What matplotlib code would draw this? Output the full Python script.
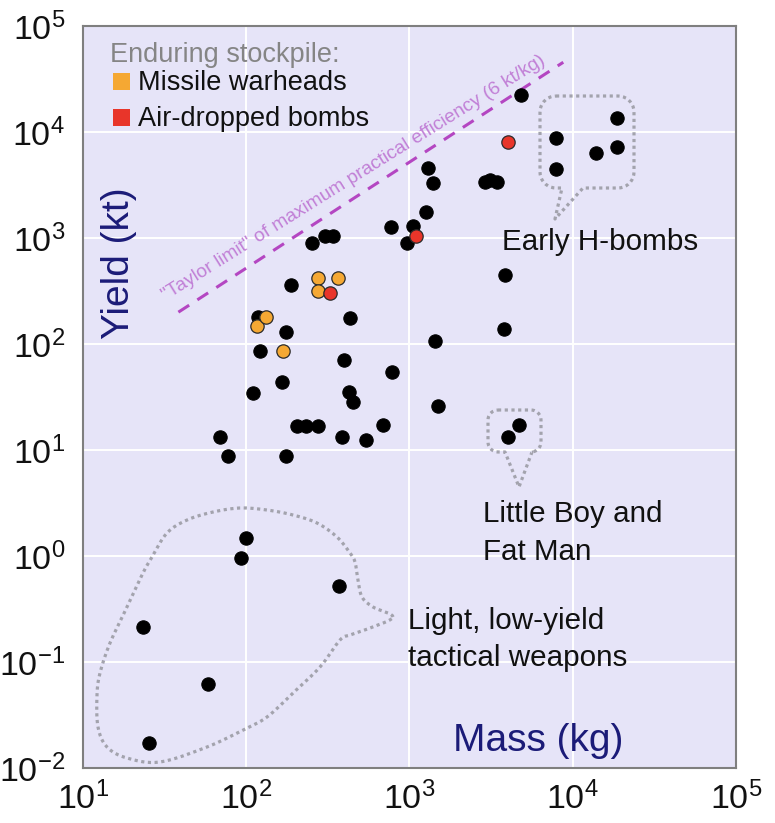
import numpy as np
import matplotlib
matplotlib.use('Agg')
import matplotlib.pyplot as plt
from matplotlib.patches import Rectangle

plt.rcParams['font.family'] = ['Liberation Sans', 'DejaVu Sans']
plt.rcParams['mathtext.fontset'] = 'custom'
plt.rcParams['mathtext.rm'] = 'Liberation Sans'
plt.rcParams['mathtext.it'] = 'Liberation Sans:italic'
plt.rcParams['mathtext.bf'] = 'Liberation Sans:bold'

# ---------------- data (mass in kg, yield in kt) ----------------
other_mass = [23.3, 58.6, 25.5, 92.5, 99.5, 371, 188, 252, 303, 341, 767, 118.6,
              175, 122, 432, 399, 778, 165.5, 110, 426, 449, 204, 232, 276, 685,
              387, 542, 69, 77.3, 175, 3865, 3810, 1440, 1485, 4710, 4030, 4840,
              7930, 7930, 13900, 18700, 18700, 1300, 1385, 2900, 3110, 3450, 1270,
              1055, 970]
other_yield = [0.215, 0.062, 0.0173, 0.95, 1.47, 0.525, 360, 891, 1045, 1045, 1280, 181,
               131, 86.5, 177, 70.6, 54.8, 44, 34.8, 35.5, 28.1, 16.9, 16.9, 16.9, 17.2,
               13.2, 12.4, 13.2, 8.8, 8.8, 445, 139, 107, 26, 17.1, 13.3, 22500,
               8830, 4480, 6340, 13600, 7210, 4550, 3330, 3400, 3520, 3400, 1770,
               1300, 891]
missile_mass = [116, 133, 167, 274, 366, 274]
missile_yield = [149, 179, 86.5, 423, 423, 318]
airdrop_mass = [326, 1097, 3990]
airdrop_yield = [301, 1050, 8090]

taylor_ratio = 5.2            # kt per kg as drawn
taylor_mass_range = [38.4, 8750]

x_ticks = [1e1, 1e2, 1e3, 1e4, 1e5]
x_tick_labels = [r'$10^{1}$', r'$10^{2}$', r'$10^{3}$', r'$10^{4}$', r'$10^{5}$']
y_ticks = [1e-2, 1e-1, 1e0, 1e1, 1e2, 1e3, 1e4, 1e5]
y_tick_labels = [r'$10^{-2}$', r'$10^{-1}$', r'$10^{0}$', r'$10^{1}$',
                 r'$10^{2}$', r'$10^{3}$', r'$10^{4}$', r'$10^{5}$']

# ---------------- figure ----------------
W, H = 775, 823
fig = plt.figure(figsize=(W / 100, H / 100), dpi=100)
AX_L, AX_R, AX_T, AX_B = 83, 736, 26, 768
ax = fig.add_axes([AX_L / W, (H - AX_B) / H, (AX_R - AX_L) / W, (AX_B - AX_T) / H])
ax.set_facecolor('#e6e4f8')
ax.set_xscale('log')
ax.set_yscale('log')
ax.set_xlim(1e1, 1e5)
ax.set_ylim(1e-2, 1e5)
ax.set_xticks(x_ticks)
ax.set_xticklabels(x_tick_labels)
ax.set_yticks(y_ticks)
ax.set_yticklabels(y_tick_labels)
ax.minorticks_off()
ax.tick_params(axis='both', length=0, labelsize=24.5, colors='#111111')
ax.tick_params(axis='x', pad=10)
ax.tick_params(axis='y', pad=13)
ax.grid(True, color='white', linewidth=1.4)
ax.set_axisbelow(True)
for s in ax.spines.values():
    s.set_color('#7f7f7f')
    s.set_linewidth(1.5)


def px(x, y):
    """image pixel -> axes fraction"""
    return ((x - AX_L) / (AX_R - AX_L), (AX_B - y) / (AX_B - AX_T))


def px_arr(pts):
    pts = np.asarray(pts, dtype=float)
    return (pts[:, 0] - AX_L) / (AX_R - AX_L), (AX_B - pts[:, 1]) / (AX_B - AX_T)


def catmull(pts, n=12, closed=True):
    pts = np.asarray(pts, dtype=float)
    P = np.vstack([pts[-1], pts, pts[0], pts[1]])
    out = []
    for i in range(1, len(P) - 2):
        p0, p1, p2, p3 = P[i - 1], P[i], P[i + 1], P[i + 2]
        for t in np.linspace(0, 1, n, endpoint=False):
            t2, t3 = t * t, t * t * t
            out.append(0.5 * ((2 * p1) + (-p0 + p2) * t + (2 * p0 - 5 * p1 + 4 * p2 - p3) * t2
                              + (-p0 + 3 * p1 - 3 * p2 + p3) * t3))
    out.append(out[0])
    return np.array(out)


def callout(x0, y0, x1, y1, r, tl, tr, tip):
    """rounded rectangle (pixel coords) with a tail on the bottom edge"""
    pts = []
    def arc(cx, cy, a0, a1):
        for a in np.linspace(a0, a1, 10):
            pts.append((cx + r * np.cos(a), cy + r * np.sin(a)))
    pts.append((x0 + r, y0))
    pts.append((x1 - r, y0))
    arc(x1 - r, y0 + r, -np.pi / 2, 0)
    pts.append((x1, y1 - r))
    arc(x1 - r, y1 - r, 0, np.pi / 2)
    pts.append((tr, y1))
    pts.append(tip)
    pts.append((tl, y1))
    pts.append((x0 + r, y1))
    arc(x0 + r, y1 - r, np.pi / 2, np.pi)
    pts.append((x0, y0 + r))
    arc(x0 + r, y0 + r, np.pi, 1.5 * np.pi)
    pts.append((x0 + r, y0))
    return pts


dot_style = dict(color='#a3a3ad', linewidth=2.3, linestyle=(0, (1, 1.1)),
                 transform=ax.transAxes, zorder=2)

# Early H-bombs callout
hx, hy = px_arr(callout(540, 96, 634, 188, 16, 562, 583, (555, 219)))
ax.plot(hx, hy, **dot_style)
# Little Boy / Fat Man callout
lx, ly = px_arr(callout(488, 410, 541, 452, 10, 505, 532, (519, 487)))
ax.plot(lx, ly, **dot_style)
# tactical blob
blob = [(393, 617), (373, 607), (362, 597), (358, 580), (355, 562), (350, 553),
        (337, 537), (317, 523), (293, 515), (267, 510), (240, 508), (213, 512),
        (187, 520), (167, 533), (152, 557), (143, 573), (127, 607), (110, 643),
        (100, 673), (97, 695), (98, 727), (107, 747), (127, 758), (160, 762),
        (207, 747), (243, 730), (267, 717), (293, 693), (320, 667), (340, 640),
        (350, 635), (370, 628)]
bx, by = px_arr(catmull(blob, n=8))
ax.plot(bx, by, **dot_style)

# Taylor limit line
tm = np.array(taylor_mass_range)
ax.plot(tm, taylor_ratio * tm, color='#b446c2', linewidth=2.2,
        linestyle=(0, (4.2, 3.2)), zorder=3)
fig.canvas.draw()
p1 = ax.transData.transform((tm[0], taylor_ratio * tm[0]))
p2 = ax.transData.transform((tm[1], taylor_ratio * tm[1]))
ang = np.degrees(np.arctan2(p2[1] - p1[1], p2[0] - p1[0]))
tx, ty = px(354, 178)
ax.text(tx, ty, '"Taylor limit" of maximum practical efficiency (6 kt/kg)',
        transform=ax.transAxes, rotation=ang - 1.0, rotation_mode='anchor',
        ha='center', va='center', fontsize=13.8, color='#c17fd6', zorder=3)

# scatter points
ms = 92
ax.scatter(other_mass, other_yield, s=ms, color='black', edgecolors='black',
           linewidths=0.8, zorder=4)
ax.scatter(missile_mass, missile_yield, s=ms, color='#f5a833', edgecolors='#2a2a2a',
           linewidths=0.9, zorder=5)
ax.scatter(airdrop_mass, airdrop_yield, s=ms, color='#e8352a', edgecolors='#2a2a2a',
           linewidths=0.9, zorder=6)

# legend (manual)
ax.text(*px(110, 62), 'Enduring stockpile:', transform=ax.transAxes,
        fontsize=19.5, color='#858585', va='baseline', ha='left')
for (yy, col, lab) in [(90, '#f5a833', 'Missile warheads'),
                       (126, '#e8352a', 'Air-dropped bombs')]:
    x0, y0 = px(113, yy)
    x1, y1 = px(130, yy - 17)
    ax.add_patch(Rectangle((x0, y0), x1 - x0, y1 - y0, transform=ax.transAxes,
                           facecolor=col, edgecolor='none', zorder=5))
    ax.text(*px(138, yy), lab, transform=ax.transAxes, fontsize=19.5,
            color='#111111', va='baseline', ha='left')

# annotation texts
ann = dict(transform=ax.transAxes, fontsize=21.3, color='#111111', va='baseline', ha='left')
ax.text(*px(502, 250), 'Early H-bombs', **ann)
ax.text(*px(483, 522), 'Little Boy and', **ann)
ax.text(*px(483, 560), 'Fat Man', **ann)
ax.text(*px(408, 629), 'Light, low-yield', **ann)
ax.text(*px(408, 666), 'tactical weapons', **ann)

# axis titles inside the plot
navy = '#1b1b78'
ax.text(*px(453, 751), 'Mass (kg)', transform=ax.transAxes, fontsize=28,
        color=navy, va='baseline', ha='left')
ax.text(*px(119, 263), 'Yield (kt)', transform=ax.transAxes, fontsize=28,
        color=navy, va='center', ha='center', rotation=90)

fig.savefig('out.png', dpi=100)
